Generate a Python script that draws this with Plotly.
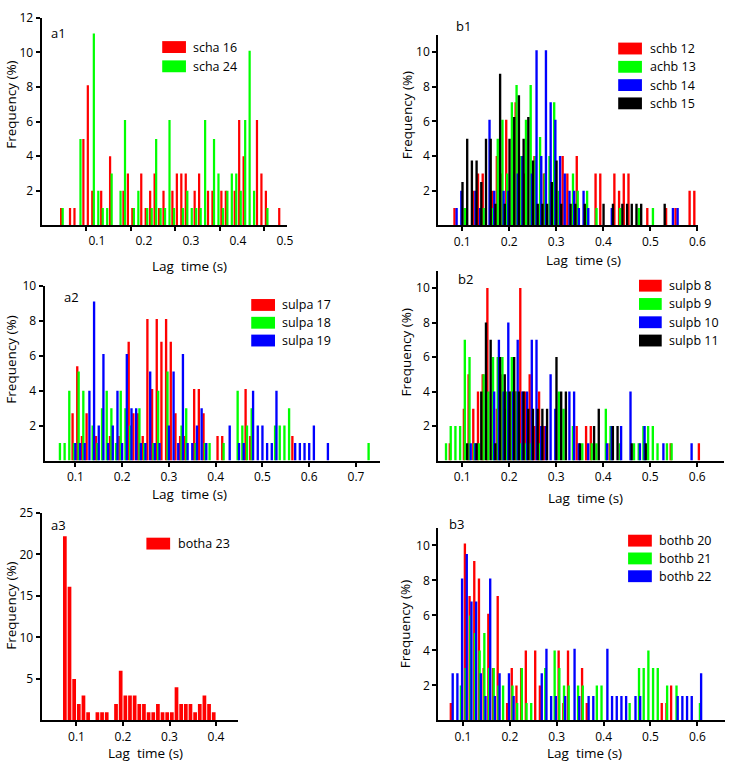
import plotly.graph_objects as go

W, H = 735, 762
RED, GREEN, BLUE, BLACK = "#ff0000", "#00ff00", "#0000ff", "#000000"
FONT = "Open Sans"

# ---------------- data (bin start in s, frequency in %) ----------------
# a1
scha16_x = [0.04, 0.06, 0.07, 0.09, 0.10, 0.11, 0.13, 0.15, 0.18, 0.19, 0.20, 0.22, 0.23, 0.24, 0.25, 0.26, 0.27,
            0.29, 0.30, 0.31, 0.32, 0.34, 0.35, 0.37, 0.38, 0.40, 0.41, 0.43, 0.44, 0.45, 0.48, 0.49, 0.50, 0.53]
scha16_y = [1, 1, 1, 5, 8.1, 2, 2, 4, 2, 3, 1, 3, 1, 2, 3, 1, 2,
            2, 3, 3, 3, 2, 3, 2, 2, 2, 2, 2, 6.1, 4, 6.1, 3, 2, 1]
scha24_x = [0.04, 0.08, 0.11, 0.12, 0.13, 0.14, 0.15, 0.17, 0.18, 0.20, 0.21, 0.23, 0.24, 0.25, 0.26, 0.27, 0.28,
            0.29, 0.31, 0.32, 0.33, 0.34, 0.35, 0.36, 0.38, 0.39, 0.40, 0.41, 0.42, 0.43, 0.44, 0.45, 0.46, 0.47, 0.50]
scha24_y = [1, 5, 11.1, 2, 1, 1, 3, 2, 6.1, 1, 2, 1, 1, 5, 1, 1, 6.1,
            1, 1, 2, 1, 1, 1, 6.1, 5, 3, 1, 2, 3, 3, 2, 6.1, 10.1, 2, 1]

# b1
schb12_x = [0.08, 0.12, 0.13, 0.14, 0.16, 0.17, 0.18, 0.19, 0.21, 0.23, 0.25, 0.27, 0.31, 0.32, 0.34, 0.36, 0.38,
            0.39, 0.42, 0.43, 0.44, 0.45, 0.49, 0.53, 0.55, 0.58, 0.59]
schb12_y = [1, 2, 3, 3, 2, 4, 3, 6.1, 7.1, 3, 4, 3, 4, 3, 4, 1, 3,
            3, 3, 2, 3, 3, 1, 1, 1, 2, 2]
achb13_x = [0.10, 0.14, 0.16, 0.17, 0.18, 0.19, 0.20, 0.21, 0.22, 0.23, 0.24, 0.25, 0.26, 0.27, 0.28, 0.29, 0.30,
            0.33, 0.34, 0.36, 0.38, 0.43, 0.47, 0.50]
achb13_y = [1, 1, 1, 5, 6.1, 3, 7.1, 8.1, 4, 6.1, 8.1, 4, 5.1, 3, 4, 7.1, 2,
            3, 2, 2, 1, 1, 1, 1]
schb14_x = [0.08, 0.09, 0.12, 0.13, 0.15, 0.16, 0.18, 0.19, 0.21, 0.22, 0.24, 0.25, 0.26, 0.27, 0.28, 0.29, 0.30,
            0.31, 0.32, 0.33, 0.34, 0.35, 0.36, 0.41, 0.54, 0.55]
schb14_y = [1, 2, 2, 1, 6.1, 2, 2, 2, 3, 4, 3, 10.1, 4, 10.1, 7.1, 6.1, 4,
            3, 2, 2, 1, 2, 1, 1, 1, 1]
schb15_x = [0.10, 0.11, 0.12, 0.13, 0.14, 0.15, 0.16, 0.17, 0.18, 0.19, 0.20, 0.21, 0.22, 0.23, 0.24, 0.25, 0.26,
            0.27, 0.28, 0.29, 0.30, 0.31, 0.33, 0.34, 0.36, 0.40, 0.42, 0.44, 0.45, 0.46, 0.47, 0.48, 0.53]
schb15_y = [2.5, 5, 3.75, 3.75, 2.5, 5, 5, 1.25, 8.75, 1.25, 5, 6.25, 7.5, 5, 6.25, 3.75, 1.25,
            1.25, 1.25, 2.5, 3.75, 1.25, 1.25, 1.25, 1.25, 1.25, 1.25, 1.25, 1.25, 1.25, 1.25, 1.25, 1.25]

# a2
sulpa17_x = [0.09, 0.10, 0.11, 0.12, 0.14, 0.17, 0.19, 0.21, 0.22, 0.23, 0.24, 0.25, 0.26, 0.27, 0.28, 0.29, 0.30,
             0.31, 0.32, 0.33, 0.35, 0.36, 0.37, 0.40, 0.41, 0.46, 0.47, 0.56]
sulpa17_y = [2.7, 5.4, 1.4, 2.7, 1.4, 1.4, 1.4, 6.8, 2.7, 2.7, 1.4, 8.1, 4.1, 8.1, 6.8, 8.1, 6.8,
             2.7, 1.4, 1.4, 4.1, 4.1, 2.7, 1.4, 1.4, 4.1, 1.4, 1.4]
sulpa18_x = [0.06, 0.07, 0.08, 0.09, 0.10, 0.11, 0.13, 0.14, 0.15, 0.16, 0.17, 0.18, 0.19, 0.20, 0.21, 0.23, 0.24,
             0.26, 0.27, 0.29, 0.32, 0.33, 0.35, 0.37, 0.38, 0.41, 0.44, 0.45, 0.46, 0.47, 0.52, 0.53, 0.54, 0.55, 0.72]
sulpa18_y = [1, 1, 4, 1, 5.1, 4, 2, 1, 3, 4, 3, 1, 4, 3, 2, 3, 1,
             1, 4, 5.1, 2, 3, 1, 1, 1, 1, 4, 2, 2, 3, 2, 2, 2, 3, 1]
sulpa19_x = [0.10, 0.11, 0.12, 0.13, 0.14, 0.15, 0.16, 0.17, 0.18, 0.19, 0.20, 0.21, 0.22, 0.23, 0.24, 0.25, 0.26,
             0.27, 0.28, 0.30, 0.31, 0.32, 0.33, 0.34, 0.35, 0.36, 0.37, 0.38, 0.43, 0.45, 0.46, 0.48, 0.49, 0.50,
             0.51, 0.52, 0.53, 0.57, 0.58, 0.59, 0.60, 0.61, 0.64]
sulpa19_y = [1, 1, 1, 4, 9.1, 2, 6.1, 1, 2, 4, 1, 6.1, 3, 3, 1, 1, 5.1,
             1, 1, 2, 5.1, 1, 6.1, 1, 1, 2, 3, 1, 2, 1, 1, 4, 2, 2,
             1, 1, 4, 1, 1, 1, 1, 2, 1]

# b2
sulpb8_x = [0.07, 0.10, 0.11, 0.12, 0.13, 0.14, 0.15, 0.17, 0.18, 0.19, 0.20, 0.21, 0.22, 0.23, 0.24, 0.25, 0.26,
            0.27, 0.34, 0.36, 0.37, 0.41, 0.54, 0.60]
sulpb8_y = [1, 3, 5, 3, 4, 5, 10, 3, 5, 3, 4, 4, 10, 4, 5, 2, 4,
            2, 2, 2, 2, 1, 1, 1]
sulpb9_x = [0.06, 0.07, 0.08, 0.09, 0.10, 0.11, 0.12, 0.13, 0.14, 0.15, 0.16, 0.17, 0.18, 0.19, 0.20, 0.21, 0.22,
            0.23, 0.24, 0.26, 0.30, 0.31, 0.33, 0.35, 0.37, 0.38, 0.40, 0.41, 0.43, 0.46, 0.47, 0.48, 0.49, 0.50,
            0.51, 0.53, 0.54]
sulpb9_y = [1, 2, 2, 2, 7, 6, 1, 1, 5, 4, 6, 6, 6, 4, 6, 4, 1,
            1, 1, 1, 4, 3, 2, 1, 1, 1, 3, 2, 1, 1, 1, 2, 2, 2,
            1, 1, 1]
sulpb10_x = [0.11, 0.12, 0.16, 0.17, 0.18, 0.19, 0.20, 0.21, 0.22, 0.23, 0.24, 0.25, 0.26, 0.27, 0.28, 0.29, 0.32,
             0.33, 0.34, 0.36, 0.40, 0.41, 0.43, 0.45, 0.47, 0.48, 0.52, 0.58]
sulpb10_y = [1, 1, 4, 7, 4, 8, 4, 7, 4, 4, 7, 7, 2, 2, 5, 3, 4,
             4, 1, 1, 1, 2, 2, 4, 1, 2, 1, 1]
sulpb11_x = [0.11, 0.13, 0.14, 0.15, 0.16, 0.17, 0.18, 0.19, 0.20, 0.21, 0.22, 0.23, 0.24, 0.25, 0.26, 0.27, 0.28,
             0.30, 0.31, 0.32, 0.35, 0.38, 0.39, 0.42, 0.43, 0.46, 0.49]
sulpb11_y = [1, 1, 4, 8, 7, 1, 6, 5, 4, 6, 4, 4, 3, 3, 3, 3, 3,
             6, 4, 4, 1, 2, 3, 2, 2, 1, 1]

# a3
botha23_x = [0.07, 0.08, 0.09, 0.10, 0.11, 0.12, 0.13, 0.14, 0.15, 0.16, 0.17, 0.18, 0.19, 0.20, 0.21, 0.22, 0.23,
             0.24, 0.25, 0.26, 0.27, 0.28, 0.29, 0.30, 0.31, 0.32, 0.33, 0.34, 0.35, 0.36, 0.37, 0.38, 0.39]
botha23_y = [22.2, 16.1, 5, 2, 3, 1, 0, 1, 1, 1, 0, 2, 6, 3, 3, 3, 2,
             2, 1, 1, 2, 1, 1, 1, 4, 2, 2, 2, 1, 2, 3, 2, 1]

# b3
bothb20_x = [0.07, 0.10, 0.11, 0.12, 0.13, 0.14, 0.15, 0.16, 0.17, 0.19, 0.20, 0.21, 0.22, 0.23, 0.25, 0.26, 0.30,
             0.31, 0.32, 0.35, 0.36, 0.52, 0.53, 0.54]
bothb20_y = [1, 10.1, 7.1, 9.1, 8.1, 3, 6.1, 3, 7.1, 1, 3, 2, 3, 4, 4, 2, 4,
             1, 4, 3, 1, 1, 1, 2]
bothb21_x = [0.09, 0.10, 0.11, 0.12, 0.13, 0.14, 0.15, 0.16, 0.17, 0.18, 0.20, 0.21, 0.22, 0.23, 0.24, 0.27, 0.29,
             0.30, 0.31, 0.32, 0.34, 0.35, 0.38, 0.39, 0.45, 0.47, 0.48, 0.49, 0.50, 0.51, 0.53, 0.55, 0.60]
bothb21_y = [2, 3, 6, 5, 4, 5, 3, 3, 2, 2, 2, 1, 3, 1, 1, 3, 4,
             3, 2, 2, 2, 2, 2, 2, 1, 3, 3, 4, 3, 3, 2, 2, 1]
bothb22_x = [0.07, 0.08, 0.09, 0.10, 0.11, 0.12, 0.13, 0.14, 0.15, 0.16, 0.17, 0.19, 0.20, 0.26, 0.27, 0.28, 0.29,
             0.31, 0.33, 0.34, 0.36, 0.37, 0.40, 0.41, 0.42, 0.43, 0.44, 0.46, 0.47, 0.55, 0.56, 0.57, 0.58, 0.60]
bothb22_y = [2.7, 2.7, 8.1, 9.5, 6.8, 6.8, 2.7, 1.4, 8.1, 1.4, 2.7, 2.7, 1.4, 2.7, 4.1, 1.4, 1.4,
             1.4, 4.1, 1.4, 1.4, 1.4, 4.1, 1.4, 1.4, 1.4, 1.4, 1.4, 1.4, 1.4, 1.4, 1.4, 1.4, 2.7]

x_ticks_a1 = [0.1, 0.2, 0.3, 0.4, 0.5]
x_ticks_b = [0.1, 0.2, 0.3, 0.4, 0.5, 0.6]
x_ticks_a2 = [0.1, 0.2, 0.3, 0.4, 0.5, 0.6, 0.7]
x_ticks_a3 = [0.1, 0.2, 0.3, 0.4]
y_ticks_12 = [2, 4, 6, 8, 10, 12]
y_ticks_10 = [2, 4, 6, 8, 10]
y_ticks_25 = [5, 10, 15, 20, 25]

# ---------------- layout geometry (pixels) ----------------
panels = [
    ("a1", (42, 290, 9, 219), [0.0, 0.5511], [0, 12], x_ticks_a1, y_ticks_12),
    ("b1", (443, 706, 26, 219), [0.0488, 0.602], [0, 11], x_ticks_b, y_ticks_10),
    ("a2", (45, 384, 280, 457), [0.034, 0.751], [0, 10], x_ticks_a2, y_ticks_10),
    ("b2", (443, 732, 265, 457), [0.0488, 0.657], [0, 11], x_ticks_b, y_ticks_10),
    ("a3", (42, 241, 510, 720), [0.0249, 0.448], [0, 25], x_ticks_a3, y_ticks_25),
    ("b3", (443, 733, 525, 720), [0.047, 0.659], [0, 11], x_ticks_b, y_ticks_10),
]

series = [
    (0, "scha 16", scha16_x, scha16_y, RED, 0.004, 0.005),
    (0, "scha 24", scha24_x, scha24_y, GREEN, 0.0075, 0.005),
    (1, "schb 12", schb12_x, schb12_y, RED, 0.0035, 0.005),
    (1, "achb 13", achb13_x, achb13_y, GREEN, 0.0055, 0.005),
    (1, "schb 14", schb14_x, schb14_y, BLUE, 0.008, 0.005),
    (1, "schb 15", schb15_x, schb15_y, BLACK, 0.0005, 0.005),
    (2, "sulpa 17", sulpa17_x, sulpa17_y, RED, 0.004, 0.005),
    (2, "sulpa 18", sulpa18_x, sulpa18_y, GREEN, 0.007, 0.005),
    (2, "sulpa 19", sulpa19_x, sulpa19_y, BLUE, 0.0, 0.005),
    (3, "sulpb 8", sulpb8_x, sulpb8_y, RED, 0.0035, 0.005),
    (3, "sulpb 9", sulpb9_x, sulpb9_y, GREEN, 0.0055, 0.005),
    (3, "sulpb 10", sulpb10_x, sulpb10_y, BLUE, 0.008, 0.005),
    (3, "sulpb 11", sulpb11_x, sulpb11_y, BLACK, 0.0005, 0.005),
    (4, "botha 23", botha23_x, botha23_y, RED, 0.005, 0.008),
    (5, "bothb 20", bothb20_x, bothb20_y, RED, 0.004, 0.005),
    (5, "bothb 21", bothb21_x, bothb21_y, GREEN, 0.0055, 0.005),
    (5, "bothb 22", bothb22_x, bothb22_y, BLUE, 0.008, 0.005),
]

legends = [
    (164, 188, 193, [38.5, 58]),
    (625, 649, 655, [40, 58.5, 77, 95.5]),
    (254, 278, 283, [299.5, 317.5, 335.5]),
    (646, 669, 674, [280, 298.5, 317, 335.5]),
    (148, 172, 178, [541]),
    (635, 659, 664, [538, 556, 574]),
]
panel_label_pos = [(59, 24), (469, 17), (72, 291), (471, 273), (59, 522), (462, 521)]
xtitle_pos = [(192, 260), (590, 254), (192, 491), (592, 495), (147, 753), (591, 753)]
ytitle_pos = [(11, 97), (411, 108), (11, 355), (410, 348), (11, 604), (409, 623)]


def px(x):
    return x / W


def py(y):
    return 1 - y / H


fig = go.Figure()

for (pi, name, xs, ys, col, shift, wd) in series:
    assert len(xs) == len(ys), name
    sfx = "" if pi == 0 else str(pi + 1)
    fig.add_trace(go.Bar(
        x=xs, y=ys, width=wd, offset=shift - wd / 2,
        marker=dict(color=col, line=dict(width=0)),
        name=name, showlegend=False,
        xaxis="x" + sfx, yaxis="y" + sfx,
    ))

fig.add_trace(go.Scatter(x=[None], y=[None], xaxis="x7", yaxis="y", showlegend=False, hoverinfo="skip"))

tick_font = dict(family=FONT, size=12, color="black")
layout = dict(
    width=W, height=H, margin=dict(l=0, r=0, t=0, b=0), autosize=False,
    paper_bgcolor="white", plot_bgcolor="rgba(0,0,0,0)", barmode="overlay",
    font=dict(family=FONT, size=13, color="black"), showlegend=False,
)

for i, (name, (l, r, t, b), xr, yr, xt, yt) in enumerate(panels):
    sfx = "" if i == 0 else str(i + 1)
    layout["xaxis" + sfx] = dict(
        domain=[px(l), px(r)], anchor="y" + sfx, range=xr,
        showline=True, linecolor="black", linewidth=2,
        ticks="outside", ticklen=4, tickwidth=1.5, tickcolor="black",
        tickvals=xt, ticktext=[f"{v:.1f}" for v in xt], tickfont=tick_font,
        showticklabels=(i != 0),
        showgrid=False, zeroline=False, fixedrange=True,
    )
    layout["yaxis" + sfx] = dict(
        domain=[py(b), py(t)], anchor="x" + sfx, range=yr,
        showline=True, linecolor="black", linewidth=2,
        ticks="outside", ticklen=4, tickwidth=1.5, tickcolor="black",
        tickvals=yt, ticktext=[str(v) for v in yt], tickfont=tick_font,
        showgrid=False, zeroline=False, fixedrange=True,
    )

layout["xaxis7"] = dict(
    overlaying="x", anchor="y", side="bottom", range=[-0.0179, 0.5042],
    showline=False, showgrid=False, zeroline=False, fixedrange=True,
    ticks="outside", ticklen=4, tickcolor="rgba(0,0,0,0)",
    tickvals=x_ticks_a1, ticktext=[f"{v:.1f}" for v in x_ticks_a1], tickfont=tick_font,
)

annotations = []
shapes = []
for i, (name, *_rest) in enumerate(panels):
    lx, ly = panel_label_pos[i]
    annotations.append(dict(text=name, x=px(lx), y=py(ly), xref="paper", yref="paper",
                            showarrow=False, xanchor="center", yanchor="middle",
                            font=dict(family=FONT, size=13, color="black")))
    tx, ty = xtitle_pos[i]
    annotations.append(dict(text="Lag  time (s)", x=px(tx), y=py(ty), xref="paper", yref="paper",
                            showarrow=False, xanchor="center", yanchor="middle",
                            font=dict(family=FONT, size=13.5, color="black")))
    fx, fy = ytitle_pos[i]
    annotations.append(dict(text="Frequency (%)", x=px(fx), y=py(fy), xref="paper", yref="paper",
                            showarrow=False, xanchor="center", yanchor="middle", textangle=-90,
                            font=dict(family=FONT, size=13.5, color="black")))

for i, (sl, sr, tx, ys) in enumerate(legends):
    entries = [s for s in series if s[0] == i]
    for (pi, name, xs, yv, col, shift, wd), cy in zip(entries, ys):
        shapes.append(dict(type="rect", xref="paper", yref="paper",
                           x0=px(sl), x1=px(sr), y0=py(cy + 6), y1=py(cy - 6),
                           fillcolor=col, line=dict(width=0)))
        annotations.append(dict(text=name, x=px(tx), y=py(cy), xref="paper", yref="paper",
                                showarrow=False, xanchor="left", yanchor="middle",
                                font=dict(family=FONT, size=12.5, color="black")))

layout["annotations"] = annotations
layout["shapes"] = shapes
fig.update_layout(**layout)
fig.write_html("out.html", config={"displayModeBar": False},
               post_script="document.body.style.margin='0px';")
